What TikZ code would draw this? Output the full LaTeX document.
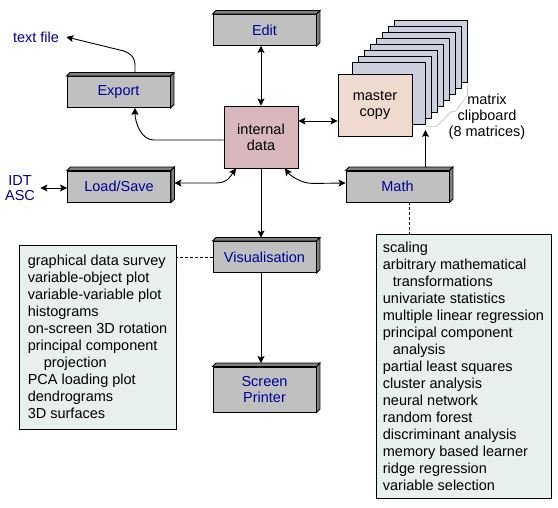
\documentclass[tikz,border=0pt]{standalone}
\usepackage{fontspec}
\setmainfont{Liberation Sans}
\usetikzlibrary{arrows.meta}
\definecolor{menugray}{RGB}{192,192,192}
\definecolor{bevelgray}{RGB}{128,128,128}
\definecolor{menutext}{RGB}{0,0,150}
\definecolor{datafill}{RGB}{216,184,188}
\definecolor{masterfill}{RGB}{238,218,206}
\definecolor{pagefill}{RGB}{204,208,222}
\definecolor{listfill}{RGB}{232,240,238}
\definecolor{bracketgray}{RGB}{192,192,192}
% top and right face of a raised box
\newcommand{\boxbevel}[1]{%
  \filldraw[bevelface] (#1.north west) -- ++(3.5,-3.5) -- ([shift={(3.5,-3.5)}]#1.north east) -- (#1.north east) -- cycle;
  \filldraw[bevelface] (#1.north east) -- ++(3.5,-3.5) -- ([shift={(3.5,-3.5)}]#1.south east) -- (#1.south east) -- cycle;}
\begin{document}
\begin{tikzpicture}[x=1pt,y=-1pt,line width=0.9pt,>={Stealth[length=7pt,width=7pt,inset=1.5pt]},
  font=\fontsize{14.5}{16}\selectfont]
\tikzstyle{menubox}=[draw,fill=menugray,text=menutext,minimum width=103pt,minimum height=31pt,inner sep=0pt,align=center]
\tikzstyle{databox}=[draw,minimum width=74pt,minimum height=62pt,inner sep=0pt,align=center]
\tikzstyle{clippage}=[draw,fill=pagefill,minimum width=73pt,minimum height=62pt]
\tikzstyle{listbox}=[draw,fill=listfill,align=left,inner sep=0pt,font=\fontsize{14.5}{17}\selectfont]
\tikzstyle{extlabel}=[text=menutext,align=center]
\tikzstyle{bevelface}=[fill=bevelgray,draw]
\tikzstyle{dashlink}=[dash pattern=on 3pt off 2pt,line width=0.7pt]
\useasboundingbox (0,0) rectangle (558,508);
% menu boxes
\node[menubox] (edit) at (264.5,30) {Edit};
\node[menubox] (export) at (118.5,92) {Export};
\node[menubox] (load) at (119,186.5) {Load/Save};
\node[menubox] (math) at (397.5,186.5) {Math};
\node[menubox] (vis) at (264.5,257) {Visualisation};
\node[menubox,minimum height=45pt] (screen) at (264.5,389.5) {Screen\\Printer};
\foreach \m in {edit,export,load,math,vis,screen} {\boxbevel{\m}}
% data and clipboard
\node[databox,fill=datafill] (data) at (261,137) {internal\\data};
\foreach \k in {8,7,...,1}
  \node[clippage] (p\k) at ({388.5+6*(\k-1)},{93-6*(\k-1)}) {};
\node[databox,fill=masterfill] (master) at (375,105) {master\\copy};
\draw[bracketgray,line width=0.6pt] (p1.south east) ++(1,2) -- ++(10,0) -- ++(15,-15) -- ++(4,0) -- ++(12,-16) -- ++(0,-9);
\node[align=center] (cliplabel) at (487,117) {matrix\\clipboard\\(8 matrices)};
% files
\node[extlabel,inner xsep=7pt] (textfile) at (36,37) {text file};
\node[extlabel,inner xsep=5pt,font=\fontsize{14.5}{14.5}\selectfont] (idtasc) at (20,188) {IDT\\ASC};
% lists
\node[listbox,minimum width=157pt,minimum height=184pt] (vislist) at (97.5,337)
  {graphical data survey\\variable-object plot\\variable-variable plot\\histograms\\on-screen 3D rotation\\principal component\\\hspace*{16pt}projection\\PCA loading plot\\dendrograms\\3D surfaces};
\node[listbox,minimum width=175pt,minimum height=264pt] (mathlist) at (463.5,366)
  {scaling\\arbitrary mathematical\\\hspace*{10pt}transformations\\univariate statistics\\multiple linear regression\\principal component\\\hspace*{10pt}analysis\\partial least squares\\cluster analysis\\neural network\\random forest\\discriminant analysis\\memory based learner\\ridge regression\\variable selection};
% connectors
\coordinate (dm) at ([yshift=-16pt]master.west);
\coordinate (mdash) at ([xshift=11.5pt]math.south);
\draw[<->] (data.north) -- (data.north |- edit.south);
\draw[<->] (data.east |- dm) -- (dm);
\draw[->] ([yshift=-3pt]data.west) -- ++(-70,0) .. controls +(-12,0) and +(0,15) .. ([xshift=16.5pt]export.south);
\draw[->,shorten <=3.5pt] ([xshift=16.5pt]export.north) -- ++(0,-11) .. controls +(0,-9) and +(8,1.5) .. ++(-15,-15) -- (textfile.east);
\draw[<->] (idtasc.east) -- (idtasc.east -| load.west);
\draw[<->,shorten <=3.5pt] ([yshift=3.5pt]load.east) -- ++(45,0) .. controls +(12,0) and +(-5,7) .. ([xshift=-25pt]data.south);
\draw[<->] ([xshift=24pt]data.south) .. controls +(5,7) and +(-12,0) .. ++(28,15) -- ([yshift=3.5pt]math.west);
\draw[->,shorten >=3.5pt] (data.south) -- (data.south |- vis.north);
\draw[->,shorten >=3.5pt] (data.south |- vis.south) -- (data.south |- screen.north);
\draw[->,shorten <=3.5pt] (p1.south east |- math.north) -- ([yshift=-5.5pt]p1.south east);
\draw[dashlink] (vis.west) -- (vis.west -| vislist.east);
\draw[dashlink] (mdash) -- (mdash |- mathlist.north);
\end{tikzpicture}
\end{document}
